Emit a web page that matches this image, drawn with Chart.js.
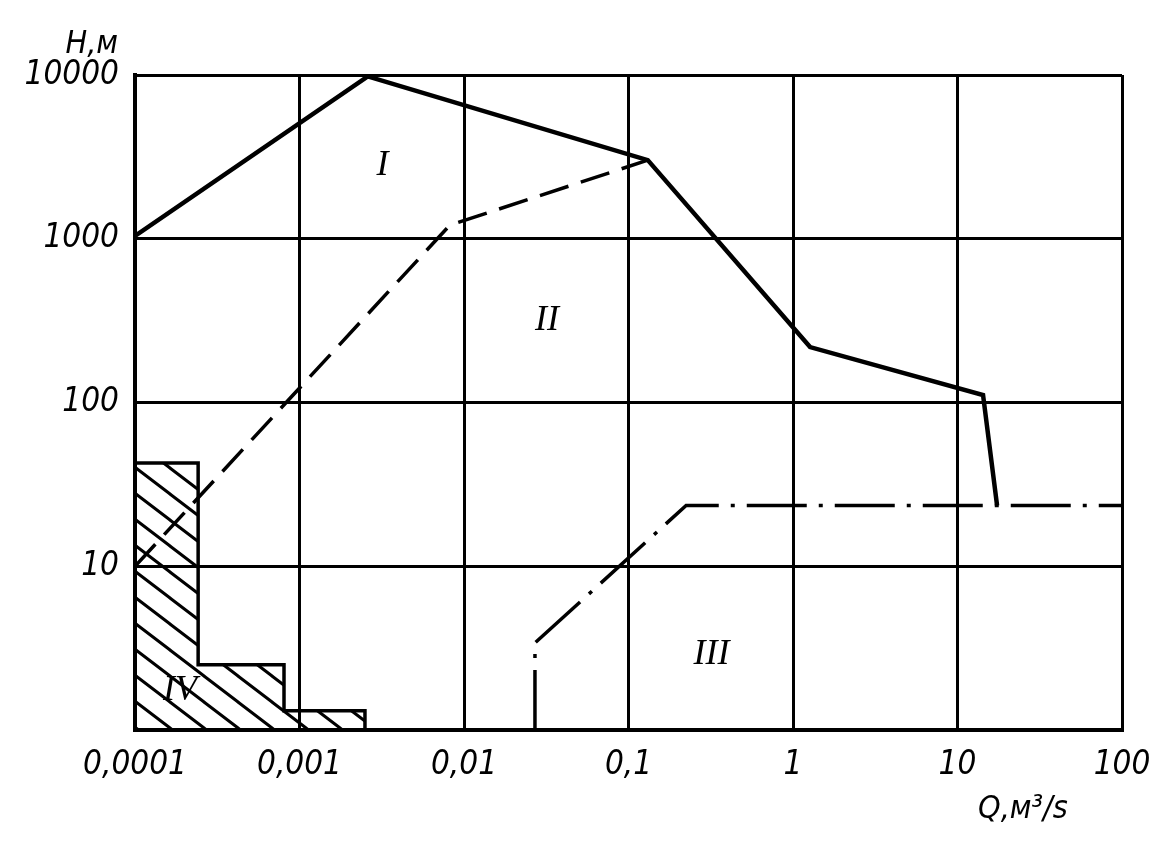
<!DOCTYPE html>
<html>
<head>
<meta charset="utf-8">
<script src="https://cdn.jsdelivr.net/npm/chart.js@4"></script>
<style>
  html, body { margin: 0; padding: 0; background: #fff; }
  #wrap { width: 1176px; height: 852px; }
</style>
</head>
<body>
<div id="wrap"><canvas id="chart" width="1176" height="852"></canvas></div>
<script>
// axis ticks
const xTicks = [0.0001, 0.001, 0.01, 0.1, 1, 10, 100];
const xTickLabels = ['0,0001', '0,001', '0,01', '0,1', '1', '10', '100'];
const yTicks = [1, 10, 100, 1000, 10000];
const yTickLabels = ['', '10', '100', '1000', '10000'];

// curve I (solid)
const qI = [0.0001, 0.0026, 0.131, 1.27, 14.3, 17.4];
const hI = [1040, 9800, 3020, 218, 111, 23.5];

// curve II (dashed)
const qII = [0.0001, 0.0082, 0.131];
const hII = [10, 1210, 3020];

// curve III (dash-dot)
const qIII = [0.027, 0.027, 0.224, 100];
const hIII = [1, 3.4, 23.5, 23.5];

// region IV (hatched steps)
const qIV = [0.0001, 0.000242, 0.000242, 0.000805, 0.000805, 0.0025, 0.0025];
const hIV = [42.7, 42.7, 2.5, 2.5, 1.31, 1.31, 1];

// region labels
const regionNames = ['I', 'II', 'III', 'IV'];
const regionQ = [0.0032, 0.032, 0.32, 0.000188];
const regionH = [2800, 316, 2.9, 1.75];

const pts = (qs, hs) => qs.map((q, i) => ({ x: q, y: hs[i] }));

// diagonal "\" hatching
function hatch() {
  const w = 34, h = 26;
  const c = document.createElement('canvas');
  c.width = w; c.height = h;
  const g = c.getContext('2d');
  g.strokeStyle = '#000';
  g.lineWidth = 3;
  g.beginPath();
  g.moveTo(-w, -h); g.lineTo(2 * w, 2 * h);
  g.moveTo(-w, 0); g.lineTo(w, 2 * h);
  g.moveTo(0, -h); g.lineTo(2 * w, h);
  g.stroke();
  return g.createPattern(c, 'repeat');
}

const tickFont = { family: '"Liberation Sans Narrow", "DejaVu Sans Condensed", sans-serif', size: 33, style: 'italic' };

const labelsPlugin = {
  id: 'labels',
  afterDraw(chart) {
    const ctx = chart.ctx;
    const x = chart.scales.x, y = chart.scales.y;
    ctx.save();
    ctx.fillStyle = '#000';
    ctx.font = 'italic 32px "Liberation Sans Narrow", "DejaVu Sans Condensed", sans-serif';
    ctx.textBaseline = 'middle';
    ctx.textAlign = 'right';
    ctx.fillText('H,м', 118, 45);
    ctx.textAlign = 'left';
    ctx.fillText('Q,м³/s', 978, 810);

    ctx.font = 'italic 36px "Liberation Serif", serif';
    ctx.textAlign = 'center';
    regionNames.forEach((n, i) => {
      ctx.fillText(n, x.getPixelForValue(regionQ[i]), y.getPixelForValue(regionH[i]));
    });
    ctx.restore();
  }
};

new Chart(document.getElementById('chart'), {
  type: 'scatter',
  data: {
    datasets: [
      {
        data: pts(qIV, hIV),
        showLine: true,
        borderColor: '#000',
        borderWidth: 3.5,
        backgroundColor: hatch(),
        fill: 'start',
        pointRadius: 0
      },
      {
        data: pts(qII, hII),
        showLine: true,
        borderColor: '#000',
        borderWidth: 3.5,
        borderDash: [30, 13],
        pointRadius: 0
      },
      {
        data: pts(qIII, hIII),
        showLine: true,
        borderColor: '#000',
        borderWidth: 3.5,
        borderDash: [60, 12, 4, 12],
        pointRadius: 0
      },
      {
        data: pts(qI, hI),
        showLine: true,
        borderColor: '#000',
        borderWidth: 4.5,
        pointRadius: 0
      }
    ]
  },
  options: {
    responsive: false,
    animation: false,
    layout: { padding: { top: 75, right: 54, left: 0, bottom: 0 } },
    plugins: { legend: { display: false }, tooltip: { enabled: false } },
    scales: {
      x: {
        type: 'logarithmic',
        min: 0.0001,
        max: 100,
        afterBuildTicks: s => { s.ticks = xTicks.map(v => ({ value: v })); },
        afterFit: s => { s.height = 122; },
        ticks: {
          callback: v => xTickLabels[xTicks.indexOf(v)],
          font: tickFont,
          color: '#000',
          padding: 16,
          maxRotation: 0,
          autoSkip: false
        },
        grid: { color: '#000', lineWidth: 3, drawTicks: false },
        border: { color: '#000', width: 4 }
      },
      y: {
        type: 'logarithmic',
        min: 1,
        max: 10000,
        afterBuildTicks: s => { s.ticks = yTicks.map(v => ({ value: v })); },
        afterFit: s => { s.width = 135; },
        ticks: {
          callback: v => yTickLabels[yTicks.indexOf(v)],
          font: tickFont,
          color: '#000',
          padding: 16,
          autoSkip: false
        },
        grid: { color: '#000', lineWidth: 3, drawTicks: false },
        border: { color: '#000', width: 4 }
      }
    }
  },
  plugins: [labelsPlugin]
});
</script>
</body>
</html>
